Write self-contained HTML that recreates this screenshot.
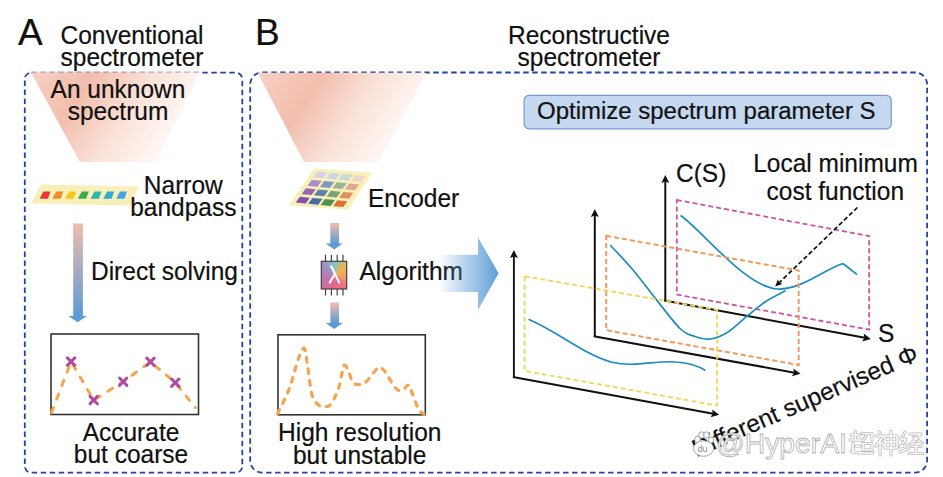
<!DOCTYPE html>
<html><head><meta charset="utf-8">
<style>
html,body{margin:0;padding:0;background:#fff;}
svg{display:block;}
text{font-family:"Liberation Sans",sans-serif;fill:#111;stroke:#111;stroke-width:0.2px;}
</style></head>
<body>
<svg width="943" height="477" viewBox="0 0 943 477">
<defs>
  <linearGradient id="trapA" gradientUnits="userSpaceOnUse" x1="13" y1="60" x2="161" y2="160">
    <stop offset="0.05" stop-color="#f7d5c8"/>
    <stop offset="0.42" stop-color="#f2bead"/>
    <stop offset="0.7" stop-color="#fae2d8"/>
    <stop offset="1" stop-color="#fffaf8"/>
  </linearGradient>
  <linearGradient id="trapB" gradientUnits="userSpaceOnUse" x1="240" y1="60" x2="388" y2="160">
    <stop offset="0.05" stop-color="#f7d5c8"/>
    <stop offset="0.43" stop-color="#f2bead"/>
    <stop offset="0.7" stop-color="#fae2d8"/>
    <stop offset="1" stop-color="#fffaf8"/>
  </linearGradient>
  <linearGradient id="arrV" x1="0" y1="0" x2="0" y2="1">
    <stop offset="0" stop-color="#f0bcaa"/>
    <stop offset="1" stop-color="#5b9bd8"/>
  </linearGradient>
  <linearGradient id="bigArr" gradientUnits="userSpaceOnUse" x1="438" y1="0" x2="500" y2="0">
    <stop offset="0" stop-color="#5b9bd5" stop-opacity="0"/>
    <stop offset="1" stop-color="#5b9bd5"/>
  </linearGradient>
</defs>

<!-- Panel borders -->
<rect x="24.8" y="72.6" width="217.5" height="400" rx="6.5" fill="none" stroke="#2244a4" stroke-width="1.8" stroke-dasharray="5.5 3.5"/>
<rect x="250.2" y="72.5" width="676.9" height="400.1" rx="12" fill="none" stroke="#2244a4" stroke-width="1.8" stroke-dasharray="5.5 3.5"/>

<!-- Labels -->
<text x="18" y="44.8" font-size="37">A</text>
<text x="255" y="44.8" font-size="37">B</text>
<text x="132.00" y="44.10" font-size="24.5" text-anchor="middle" transform="matrix(1,0,0,1.035,0,-1.543)">Conventional</text>
<text x="132" y="65.8" font-size="24.5" text-anchor="middle" transform="matrix(1,0,0,1.035,0,-2.285)">spectrometer</text>
<text x="589.00" y="44.10" font-size="24.5" text-anchor="middle" transform="matrix(1,0,0,1.035,0,-1.543)">Reconstructive</text>
<text x="589" y="65.8" font-size="24.5" text-anchor="middle" transform="matrix(1,0,0,1.035,0,-2.285)">spectrometer</text>

<!-- Panel A -->
<polygon points="31,72.5 200,72.5 155.6,162 80,162" fill="url(#trapA)"/>
<polygon points="30.6,71.5 200.5,71.5 199.5,73.6 31.6,73.6" fill="url(#trapA)" opacity="0.45"/>
<text x="118.00" y="98.30" font-size="24.5" text-anchor="middle" transform="matrix(1,0,0,1.035,0,-3.440)">An unknown</text>
<text x="118.00" y="119.80" font-size="24.5" text-anchor="middle" transform="matrix(1,0,0,1.035,0,-4.193)">spectrum</text>

<!-- narrow bandpass chip -->
<polygon points="40.9,184.5 138.9,186.4 130.6,205.5 31.1,203.5" fill="#f7f0b8"/>
<polygon points="43.5,191.5 50.5,191.5 47.9,198.8 39.6,198.8" fill="#e83535"/>
<polygon points="56.2,191.5 63.2,191.5 60.7,198.8 52.4,198.8" fill="#f08c28"/>
<polygon points="69.0,191.5 76.0,191.5 73.4,198.8 65.1,198.8" fill="#f5c814"/>
<polygon points="81.8,191.5 88.8,191.5 86.1,198.8 77.8,198.8" fill="#3caa48"/>
<polygon points="94.5,191.5 101.5,191.5 98.9,198.8 90.6,198.8" fill="#30b8b0"/>
<polygon points="107.2,191.5 114.2,191.5 111.6,198.8 103.3,198.8" fill="#38a8d0"/>
<polygon points="120.0,191.5 127.0,191.5 124.4,198.8 116.1,198.8" fill="#4aa0e8"/>
<text x="183.30" y="194.00" font-size="24.5" text-anchor="middle" transform="matrix(1,0,0,1.035,0,-6.790)">Narrow</text>
<text x="183.30" y="215.70" font-size="24.5" text-anchor="middle" transform="matrix(1,0,0,1.035,0,-7.549)">bandpass</text>

<!-- arrow A -->
<rect x="73.2" y="223.4" width="9.7" height="93" fill="url(#arrV)"/>
<polygon points="68.4,316 87,316 77.7,322.2" fill="#5a9ed8"/>
<text x="91" y="280" font-size="24.5" transform="matrix(1,0,0,1.035,0,-9.800)">Direct solving</text>

<!-- chart A -->
<rect x="51" y="334" width="147.5" height="80.5" fill="none" stroke="#333" stroke-width="1.6"/>
<polyline points="51.5,412.6 71.1,361.6 93.7,400.1 123.2,381.7 150.5,361.8 175.3,382.7 195.3,407.6" fill="none" stroke="#f4a550" stroke-width="3" stroke-linecap="round" stroke-dasharray="5.5 9"/>
<g stroke="#b04a9e" stroke-width="3" stroke-linecap="round">
  <path d="M67.4,357.9 L74.8,365.3 M74.8,357.9 L67.4,365.3"/>
  <path d="M90.0,396.4 L97.4,403.8 M97.4,396.4 L90.0,403.8"/>
  <path d="M119.5,378.0 L126.9,385.4 M126.9,378.0 L119.5,385.4"/>
  <path d="M146.8,358.1 L154.2,365.5 M154.2,358.1 L146.8,365.5"/>
  <path d="M171.6,379.0 L179.0,386.4 M179.0,379.0 L171.6,386.4"/>
</g>
<text x="131.00" y="441.50" font-size="24.5" text-anchor="middle" transform="matrix(1,0,0,1.035,0,-15.452)">Accurate</text>
<text x="131.00" y="463.50" font-size="24.5" text-anchor="middle" transform="matrix(1,0,0,1.035,0,-16.222)">but coarse</text>

<!-- Panel B -->
<polygon points="257.7,72.7 426.1,72.7 378.8,162 304,162" fill="url(#trapB)"/>

<!-- encoder chip -->
<polygon points="314.1,168.5 372.3,172.4 348.1,209.4 288.9,205.4" fill="#f7f0b8"/>
<g transform="matrix(12.5,1.2,-5.9,8.4,317.2,170.1)">
<rect x="0.1" y="0.15" width="0.8" height="0.7" fill="#dccfe8"/>
<rect x="1.1" y="0.15" width="0.8" height="0.7" fill="#cdd4e2"/>
<rect x="2.1" y="0.15" width="0.8" height="0.7" fill="#cddbd2"/>
<rect x="3.1" y="0.15" width="0.8" height="0.7" fill="#ecd6ce"/>
<rect x="0.1" y="1.15" width="0.8" height="0.7" fill="#ae8ac8"/>
<rect x="1.1" y="1.15" width="0.8" height="0.7" fill="#8398c0"/>
<rect x="2.1" y="1.15" width="0.8" height="0.7" fill="#98b498"/>
<rect x="3.1" y="1.15" width="0.8" height="0.7" fill="#e0a892"/>
<rect x="0.1" y="2.15" width="0.8" height="0.7" fill="#9868b8"/>
<rect x="1.1" y="2.15" width="0.8" height="0.7" fill="#607eae"/>
<rect x="2.1" y="2.15" width="0.8" height="0.7" fill="#78a476"/>
<rect x="3.1" y="2.15" width="0.8" height="0.7" fill="#e09060"/>
<rect x="0.1" y="3.15" width="0.8" height="0.7" fill="#8650ae"/>
<rect x="1.1" y="3.15" width="0.8" height="0.7" fill="#466ea2"/>
<rect x="2.1" y="3.15" width="0.8" height="0.7" fill="#558e52"/>
<rect x="3.1" y="3.15" width="0.8" height="0.7" fill="#dc7436"/>
</g>
<text x="368.00" y="206.70" font-size="24.5" transform="matrix(1,0,0,1.035,0,-7.234)">Encoder</text>

<!-- arrows B -->
<rect x="330.3" y="223" width="8.7" height="21" fill="url(#arrV)"/>
<polygon points="325.7,243.6 342.7,243.6 334.2,249.5" fill="#5b9bd8"/>
<rect x="330.3" y="302.5" width="8.7" height="21" fill="url(#arrV)"/>
<polygon points="325.7,323 342.7,323 334.2,329" fill="#5b9bd8"/>

<!-- chip -->
<g stroke="#444" stroke-width="1.2">
  <path d="M325.5,254.7V261.3 M331.4,254.7V261.3 M337.2,254.7V261.3 M343,254.7V261.3"/>
  <path d="M325.5,289V295.5 M331.4,289V295.5 M337.2,289V295.5 M343,289V295.5"/>
</g>
<foreignObject x="321.3" y="261.3" width="25.4" height="27.7"><div style="width:25.4px;height:27.7px;background:conic-gradient(from 0deg at 50% 50%, #7cc2cc 0deg, #eab858 50deg, #f0a262 95deg, #f07282 140deg, #e26492 185deg, #c872aa 230deg, #b07eb8 275deg, #9c92c8 320deg, #7cc2cc 360deg);"></div></foreignObject>
<rect x="321.3" y="261.3" width="25.4" height="27.7" fill="none" stroke="#444" stroke-width="1.2"/>
<path d="M329.9,266.4 L331.6,266.6 L339.5,283.4 M334.6,274.4 L329.3,283.4" fill="none" stroke="#fff" stroke-width="2.1"/>
<text x="359.50" y="280.00" font-size="24.5" transform="matrix(1,0,0,1.035,0,-9.800)">Algorithm</text>

<!-- big arrow -->
<polygon points="438,254.8 478,254.8 478,237.5 498.6,273.3 478,310 478,291.9 438,291.9" fill="url(#bigArr)"/>

<!-- chart B -->
<rect x="278" y="334.8" width="147.3" height="80" fill="none" stroke="#333" stroke-width="1.6"/>
<path d="M277.5,413.8 C279.5,409.6 285.8,397.8 289.3,388.6 C292.8,379.4 296.0,365.1 298.5,358.4 C301.0,351.7 302.9,347.0 304.4,348.4 C305.9,349.8 306.4,359.1 307.7,366.8 C308.9,374.5 310.2,388.2 311.9,394.5 C313.6,400.8 315.9,402.4 318.0,404.5 C320.1,406.6 322.3,406.9 324.5,406.8 C326.7,406.7 328.8,406.9 331.2,403.7 C333.6,400.5 336.8,393.7 338.7,387.8 C340.6,381.9 341.8,372.2 342.9,368.5 C343.9,364.8 344.1,364.9 345.0,365.3 C345.9,365.7 347.2,368.2 348.5,371.0 C349.8,373.8 351.1,379.7 352.5,381.9 C353.9,384.1 354.9,384.3 357.0,384.4 C359.1,384.5 361.8,385.3 365.1,382.7 C368.4,380.1 374.4,371.3 376.9,368.8 C379.4,366.3 378.8,367.2 380.2,367.7 C381.6,368.2 382.7,368.5 385.2,371.9 C387.7,375.2 392.5,384.7 395.3,387.8 C398.1,390.9 399.8,391.0 402.0,390.5 C404.2,390.0 406.8,384.6 408.5,385.0 C410.2,385.4 410.4,388.7 412.1,392.8 C413.8,396.9 416.8,406.1 418.8,409.6 C420.8,413.1 423.1,413.3 424.0,414.0" fill="none" stroke="#f4a550" stroke-width="3.2" stroke-linecap="round" stroke-dasharray="4.6 7"/>
<text x="359.70" y="441.00" font-size="24.5" text-anchor="middle" transform="matrix(1,0,0,1.035,0,-15.435)">High resolution</text>
<text x="359.70" y="464.00" font-size="24.5" text-anchor="middle" transform="matrix(1,0,0,1.035,0,-16.240)">but unstable</text>

<!-- Optimize box -->
<rect x="524.1" y="95.3" width="367.2" height="33.6" rx="5" fill="#c4d8ef" stroke="#7d98d4" stroke-width="1.2"/>
<text x="537.00" y="118.70" font-size="24" transform="matrix(1,0,0,1.035,0,-4.154)">Optimize spectrum parameter S</text>

<!-- 3D plot -->
<defs>
<marker id="ah" viewBox="0 0 10 10" refX="9" refY="5" markerWidth="9" markerHeight="9" markerUnits="userSpaceOnUse" orient="auto">
<path d="M0,0 L10,5 L0,10 L2.5,5 z" fill="#111"/>
</marker>
</defs>
<!-- back plane (pink) -->
<path d="M665.3,301 V181" stroke="#111" stroke-width="2" fill="none"/>
<polygon points="665.3,175.0 669.3,183.0 665.3,181.5 661.3,183.0" fill="#111"/>
<path d="M664.2,300.5 L864.9,337.8" stroke="#111" stroke-width="2" fill="none"/>
<polygon points="870.8,338.9 862.2,341.4 864.4,337.7 863.7,333.5" fill="#111"/>
<polygon points="676.8,200 869.2,236 869.2,329.6 676.8,294.6" fill="none" stroke="#cc52a6" stroke-width="1.8" stroke-dasharray="5 3"/>
<path d="M680.5,215.5 C700,228 745,287 777.5,289 C800,290 822,271 841.5,264 C843,263.5 844,264 845,265 L857,274.6" fill="none" stroke="#1b8cbf" stroke-width="1.7"/>
<!-- middle plane (orange) -->
<path d="M594.8,336.6 V215" stroke="#111" stroke-width="2" fill="none"/>
<polygon points="594.8,209.0 598.8,217.0 594.8,215.5 590.8,217.0" fill="#111"/>
<path d="M593.8,336.2 L794.6,372.7" stroke="#111" stroke-width="2" fill="none"/>
<polygon points="800.5,373.8 791.9,376.3 794.1,372.6 793.3,368.4" fill="#111"/>
<polygon points="606.2,235.8 798.7,270.5 798.7,365 606.2,330.2" fill="none" stroke="#f29a5c" stroke-width="2" stroke-dasharray="5 3"/>
<path d="M610.2,245.0 C614.0,249.2 625.5,261.1 633.0,270.0 C640.5,278.9 647.6,288.6 655.4,298.4 C663.2,308.1 673.4,322.1 680.0,328.5 C686.6,334.9 689.9,334.8 695.0,336.5 C700.1,338.2 705.2,339.8 710.7,339.0 C716.2,338.2 721.9,335.9 728.0,332.0 C734.1,328.1 741.4,320.7 747.6,315.7 C753.8,310.7 758.7,306.2 765.0,302.0 C771.3,297.8 782.1,292.6 785.5,290.7" fill="none" stroke="#1b8cbf" stroke-width="1.7"/>
<!-- front plane (yellow) -->
<path d="M513.9,377.4 V256" stroke="#111" stroke-width="1.9" fill="none"/>
<polygon points="513.9,250.0 517.9,258.0 513.9,256.5 509.9,258.0" fill="#111"/>
<path d="M512.9,377.1 L713.3,413.7" stroke="#111" stroke-width="2" fill="none"/>
<polygon points="719.2,414.8 710.6,417.3 712.8,413.6 712.1,409.4" fill="#111"/>
<polygon points="524.6,276.3 717.1,309.9 717.1,405.5 524.6,370.9" fill="none" stroke="#f4d65c" stroke-width="1.9" stroke-dasharray="5 3"/>
<path d="M528.5,319.3 C560,333 585,355 611,362 C635,368 655,360 676,362 C690,363 700,367 705.5,370.5" fill="none" stroke="#1b8cbf" stroke-width="1.7"/>
<!-- dashed arrow -->
<path d="M857.4,207.5 L779.3,282.6" stroke="#111" stroke-width="1.7" stroke-dasharray="4.5 2.5" fill="none"/>
<polygon points="775.1,286.6 777.9,279.4 779.3,282.6 782.4,284.1" fill="#111"/>
<text x="676.00" y="182.30" font-size="24.5" transform="matrix(1,0,0,1.035,0,-6.380)">C(S)</text>
<text x="835.50" y="172.50" font-size="24.5" text-anchor="middle" transform="matrix(1,0,0,1.035,0,-6.037)">Local minimum</text>
<text x="835.30" y="200.30" font-size="24.5" text-anchor="middle" transform="matrix(1,0,0,1.035,0,-7.010)">cost function</text>
<text x="878.00" y="342.00" font-size="24.5" transform="matrix(1,0,0,1.035,0,-11.970)">S</text>

<text x="0" y="0" font-size="24.5" text-anchor="end" transform="translate(920,360) rotate(-23.5)">Different supervised Φ</text>
<!-- watermark -->
<g font-family="Liberation Sans, sans-serif">
<text x="716" y="452.8" font-size="28.3" style="fill:#fff;stroke:#b0b0b0;stroke-width:0.8px">@HyperAI</text>
</g>
<g fill="none" stroke-linecap="round" stroke-linejoin="round">
<path d="M851,435 H860 M855.5,431.5 V440 M850,440 H861 M853,443 V451 M855.5,446 H860 M851,451.5 Q858,453.5 873,453 M862,433.5 H872 V440 M866.5,433.5 Q866,438 862,441 M863,443.5 H872 V450 H863 Z M879,431.5 L880.5,434 M876,436 H883.5 L876,446 M880,440.5 V455 M881.5,443 L884,446 M885,436 H897 V448 H885 Z M885,442 H897 M891,431 V455 M905,432 L901,439 H906 L900,447 L908,445 M900,452 L908,449 M910,434 H921 L911,443 M913.5,437 L922.5,443 M911,446.5 H921 M916,443.5 V453 M909,453.5 H923" stroke="#b4b4b4" stroke-width="3"/>
<path d="M851,435 H860 M855.5,431.5 V440 M850,440 H861 M853,443 V451 M855.5,446 H860 M851,451.5 Q858,453.5 873,453 M862,433.5 H872 V440 M866.5,433.5 Q866,438 862,441 M863,443.5 H872 V450 H863 Z M879,431.5 L880.5,434 M876,436 H883.5 L876,446 M880,440.5 V455 M881.5,443 L884,446 M885,436 H897 V448 H885 Z M885,442 H897 M891,431 V455 M905,432 L901,439 H906 L900,447 L908,445 M900,452 L908,449 M910,434 H921 L911,443 M913.5,437 L922.5,443 M911,446.5 H921 M916,443.5 V453 M909,453.5 H923" stroke="#ffffff" stroke-width="1.5"/>
</g>
<!-- paw -->
<g fill="#fff" stroke="#9a9a9a" stroke-width="0.9">
<ellipse cx="697.5" cy="439.5" rx="2.8" ry="3.4"/>
<ellipse cx="701.5" cy="435" rx="2.8" ry="3.2"/>
<ellipse cx="706.5" cy="435" rx="2.8" ry="3.2"/>
<ellipse cx="711" cy="440" rx="2.6" ry="3.2"/>
<ellipse cx="703.5" cy="448.5" rx="10" ry="7.8"/>
</g>
<text x="697.5" y="452" font-size="9" fill="#888" style="fill:#888;stroke:none">du</text>
</svg>
</body></html>
